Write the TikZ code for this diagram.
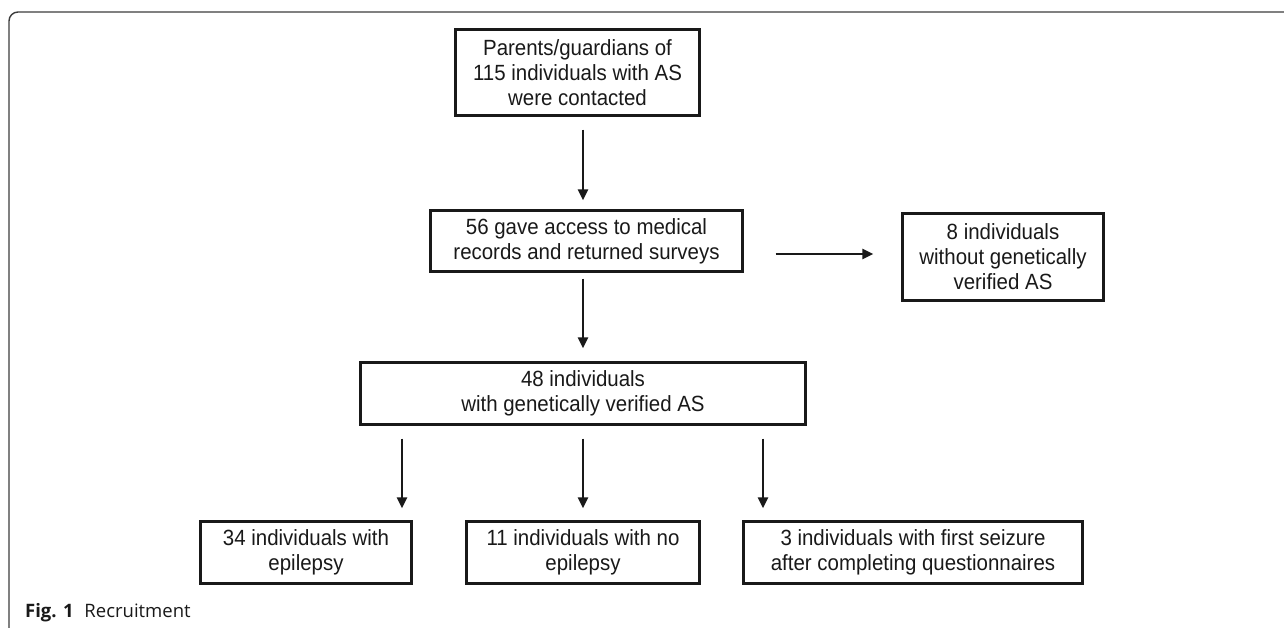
\documentclass[tikz,border=0pt]{standalone}
\usepackage{fontspec}
\setmainfont{Liberation Sans}[FakeStretch=0.93]
\newfontfamily\capfont{Open Sans}
\usepackage{tikz}
\usetikzlibrary{positioning,arrows.meta}
\definecolor{frm}{RGB}{60,60,60}
\definecolor{ink}{RGB}{25,25,25}

\begin{document}
\begin{tikzpicture}[x=1pt,y=-1pt,font=\fontsize{22}{25}\selectfont,>={Triangle[length=11pt,width=10pt]},
  recs/.style={draw=ink,line width=3.4pt,inner sep=0pt,align=center,text=ink},
  arrs/.style={->,draw=ink,line width=2.8pt}]
  \useasboundingbox (0,0) rectangle (1284,628);
  \draw[frm,line width=1.4pt,rounded corners=9pt] (9,628) -- (9,12) -- (1284,12);
  % flow boxes
  \node[recs,minimum width=244pt,minimum height=86pt] (cont) at (577.5,72.5) {Parents/guardians of\\115 individuals with AS\\were contacted};
  \node[recs,minimum width=312pt,minimum height=61pt] (surv) at (586.5,241) {56 gave access to medical\\records and returned surveys};
  \node[recs,minimum width=201pt,minimum height=87pt] (nover) at (1003,257) {8 individuals\\without genetically\\verified AS};
  \node[recs,minimum width=445pt,minimum height=62pt] (verif) at (583,393.5) {48 individuals\\with genetically verified AS};
  \node[recs,minimum width=211pt,minimum height=62pt] (epi) at (306,552.5) {34 individuals with\\epilepsy};
  \node[recs,minimum width=233pt,minimum height=62pt] (noepi) at (583,552.5) {11 individuals with no\\epilepsy};
  \node[recs,minimum width=339pt,minimum height=62pt] (first) at (913,552.5) {3 individuals with first seizure\\after completing questionnaires};
  % arrow columns
  \coordinate (mid) at (583,0); \coordinate (lft) at (402,0); \coordinate (rgt) at (763,0); \coordinate (side) at (0,254);
  \draw[arrs,shorten <=12.5pt,shorten >=8.5pt] (cont.south -| mid) -- (surv.north -| mid);
  \draw[arrs,shorten <=5.5pt,shorten >=12.5pt] (surv.south -| mid) -- (verif.north -| mid);
  \draw[arrs,shorten <=31.5pt,shorten >=27.5pt] (surv.east |- side) -- (nover.west |- side);
  \foreach \c/\n in {lft/epi,mid/noepi,rgt/first}
    \draw[arrs,shorten <=12.5pt,shorten >=11.5pt] (verif.south -| \c) -- (\n.north -| \c);
  \node[anchor=base west,inner sep=0pt,font=\capfont\fontsize{18.5}{22}\selectfont,text=ink] (cap) at (25,617) {\textbf{Fig. 1}\hspace{6pt} Recruitment};
\end{tikzpicture}
\end{document}
